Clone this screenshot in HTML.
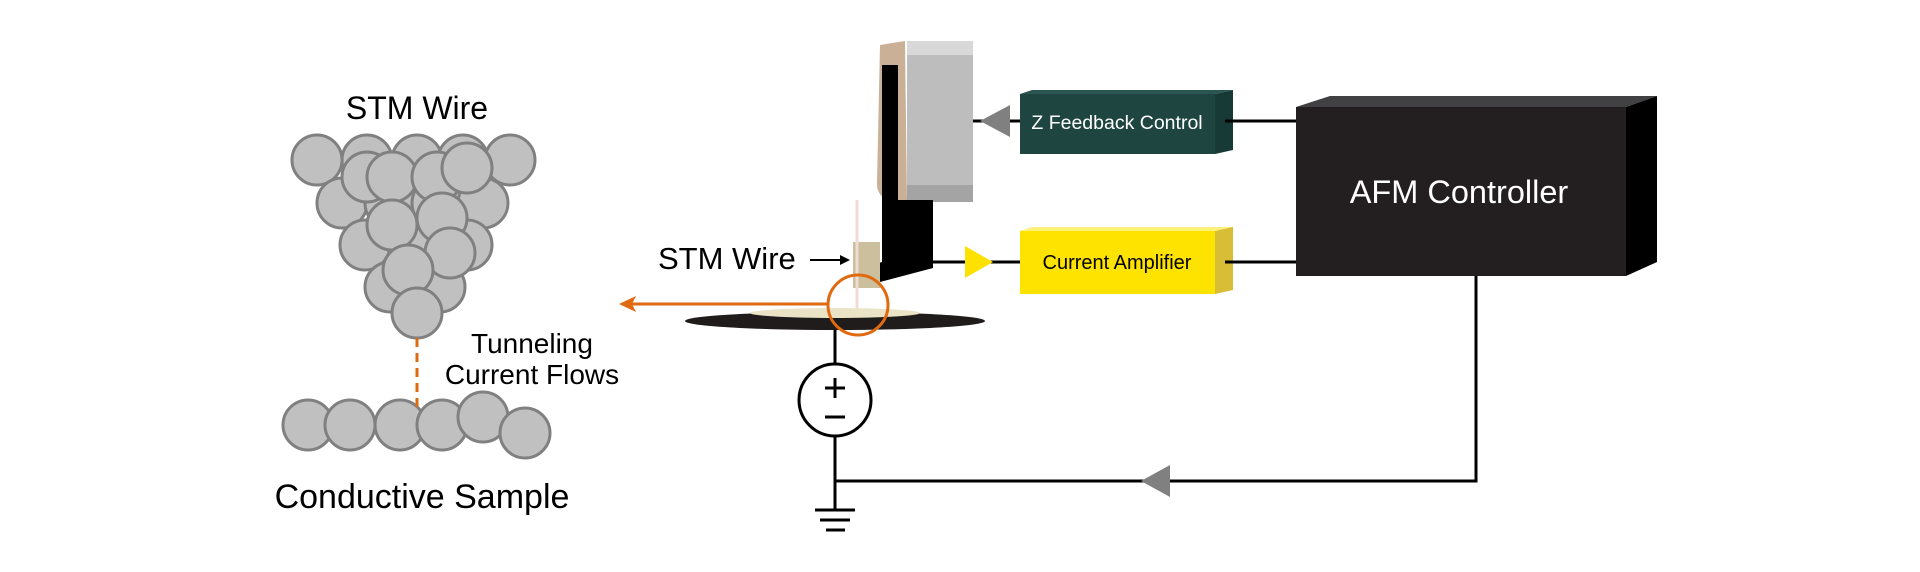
<!DOCTYPE html>
<html><head><meta charset="utf-8"><style>
html,body{margin:0;padding:0;background:#fff;}
svg{display:block;}
text{font-family:"Liberation Sans",sans-serif;}
</style></head><body>
<svg width="1920" height="572" viewBox="0 0 1920 572" xmlns="http://www.w3.org/2000/svg">
<!-- Left: atoms -->
<text x="417" y="119" font-size="32" text-anchor="middle" fill="#000">STM Wire</text>
<g fill="#c0c0c0" stroke="#808080" stroke-width="3">
<circle cx="317" cy="160" r="25"/><circle cx="367" cy="160" r="25"/><circle cx="417" cy="160" r="25"/><circle cx="463" cy="160" r="25"/><circle cx="510" cy="160" r="25"/>
<circle cx="342" cy="203" r="25"/><circle cx="390" cy="203" r="25"/><circle cx="437" cy="203" r="25"/><circle cx="483" cy="203" r="25"/>
<circle cx="365" cy="245" r="25"/><circle cx="413" cy="245" r="25"/><circle cx="467" cy="245" r="25"/>
<circle cx="390" cy="287" r="25"/><circle cx="440" cy="287" r="25"/>
<circle cx="367" cy="177" r="25"/><circle cx="392" cy="177" r="25"/><circle cx="437" cy="177" r="25"/><circle cx="467" cy="168" r="25"/>
<circle cx="392" cy="225" r="25"/><circle cx="442" cy="218" r="25"/><circle cx="450" cy="253" r="25"/><circle cx="408" cy="270" r="25"/>
<circle cx="417" cy="313" r="25"/>
<circle cx="308" cy="425" r="25"/><circle cx="350" cy="425" r="25"/><circle cx="400" cy="425" r="25"/><circle cx="442" cy="425" r="25"/><circle cx="483" cy="417" r="25"/><circle cx="525" cy="433" r="25"/>
</g>
<line x1="417" y1="338" x2="417" y2="408" stroke="#e06a10" stroke-width="3" stroke-dasharray="9,6"/>
<text x="532" y="353" font-size="28" text-anchor="middle">Tunneling</text>
<text x="532" y="384" font-size="28" text-anchor="middle">Current Flows</text>
<text x="422" y="508" font-size="34" text-anchor="middle">Conductive Sample</text>

<!-- orange arrow -->
<line x1="630" y1="304" x2="828" y2="304" stroke="#e06a10" stroke-width="3"/>
<polygon points="619,304 636,296 632,304 636,312" fill="#e06a10"/>

<!-- head -->
<path d="M880,45 L905,41 L907,202 L892,202 Q878,198 877,185 Z" fill="#c9b096"/>
<rect x="882" y="65" width="16" height="140" fill="#000"/>
<path d="M907,41 L965,41 L973,55 L973,192 L965,202 L907,202 Z" fill="#bdbdbd"/>
<rect x="907" y="41" width="66" height="14" fill="#d8d8d8"/>
<rect x="907" y="185" width="66" height="17" fill="#a4a4a4"/>
<path d="M882,200 L933,200 L933,268 L880,282 L876,264 L882,262 Z" fill="#000"/>
<rect x="853" y="242" width="27" height="46" fill="#cbbf9e"/>
<line x1="857" y1="200" x2="857" y2="313" stroke="#f0dcd4" stroke-width="3"/>
<text x="658" y="269" font-size="31">STM Wire</text>
<line x1="810" y1="260" x2="845" y2="260" stroke="#000" stroke-width="2"/>
<polygon points="850,260 840,255 840,265" fill="#000"/>

<!-- stage -->
<ellipse cx="835" cy="321" rx="150" ry="9" fill="#211c1c"/>
<ellipse cx="835" cy="313" rx="85" ry="5" fill="#eae3c6"/>
<circle cx="858" cy="305" r="30" fill="none" stroke="#e06a10" stroke-width="3"/>

<!-- circuit -->
<line x1="835" y1="330" x2="835" y2="364" stroke="#000" stroke-width="3"/>
<circle cx="835" cy="400" r="36" fill="#fff" stroke="#000" stroke-width="3"/>
<line x1="825" y1="388" x2="845" y2="388" stroke="#000" stroke-width="3"/>
<line x1="835" y1="378" x2="835" y2="398" stroke="#000" stroke-width="3"/>
<line x1="825" y1="417" x2="845" y2="417" stroke="#000" stroke-width="3"/>
<line x1="835" y1="436" x2="835" y2="510" stroke="#000" stroke-width="3"/>
<line x1="815" y1="510" x2="855" y2="510" stroke="#000" stroke-width="3"/>
<line x1="820" y1="520" x2="850" y2="520" stroke="#000" stroke-width="3"/>
<line x1="826" y1="530" x2="845" y2="530" stroke="#000" stroke-width="3"/>
<polyline points="835,481 1476,481 1476,276" fill="none" stroke="#000" stroke-width="3"/>
<polygon points="1141,481 1170,465 1170,497" fill="#808080"/>

<!-- Z feedback -->
<line x1="973" y1="121" x2="1020" y2="121" stroke="#000" stroke-width="3"/>
<polygon points="980,121 1010,105 1010,137" fill="#808080"/>
<polygon points="1020,94 1032,90 1233,90 1215,94" fill="#2a5550"/>
<polygon points="1215,94 1233,90 1233,150 1215,154" fill="#183a36"/>
<rect x="1020" y="94" width="195" height="60" fill="#1f4541"/>
<text x="1117" y="129" font-size="19.5" text-anchor="middle" fill="#fff">Z Feedback Control</text>
<line x1="1225" y1="121" x2="1296" y2="121" stroke="#000" stroke-width="3"/>

<!-- current amp -->
<line x1="933" y1="262" x2="1020" y2="262" stroke="#000" stroke-width="3"/>
<polygon points="965,246 993,262 965,278" fill="#ffe100"/>
<polygon points="1020,231 1032,227 1233,227 1215,231" fill="#fff07a"/>
<polygon points="1215,231 1233,227 1233,290 1215,294" fill="#d8bd36"/>
<rect x="1020" y="231" width="195" height="63" fill="#ffe300"/>
<text x="1117" y="269" font-size="20" text-anchor="middle" fill="#000">Current Amplifier</text>
<line x1="1225" y1="262" x2="1296" y2="262" stroke="#000" stroke-width="3"/>

<!-- AFM controller -->
<polygon points="1296,107 1330,96 1657,96 1626,107" fill="#414042"/>
<polygon points="1626,107 1657,96 1657,262 1626,276" fill="#000"/>
<rect x="1296" y="107" width="330" height="169" fill="#231f20"/>
<text x="1459" y="203" font-size="32.5" text-anchor="middle" fill="#fff">AFM Controller</text>
</svg>
</body></html>
